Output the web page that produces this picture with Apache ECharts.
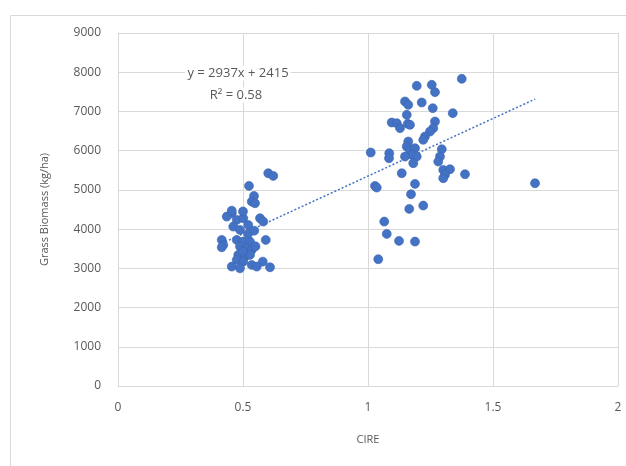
<!DOCTYPE html>
<html>
<head>
<meta charset="utf-8">
<script src="https://cdn.jsdelivr.net/npm/echarts@6/dist/echarts.min.js"></script>
<style>
  html, body { margin: 0; padding: 0; background: #ffffff; }
  #chart { width: 626px; height: 466px; }
</style>
</head>
<body>
<div id="chart"></div>
<script>
// CIRE index per plot
const cire = [
  0.601, 0.621, 0.524, 0.544, 0.535, 0.548, 0.455, 0.435, 0.475, 0.501,
  0.568, 0.581, 0.521, 0.461, 0.488, 0.591, 0.415, 0.421, 0.475, 0.501,
  0.528, 0.415, 0.488, 0.515, 0.535, 0.481, 0.508, 0.528, 0.475, 0.501,
  0.579, 0.608, 0.455, 0.488, 0.535, 0.555, 0.455, 0.500, 0.520, 0.545,
  0.500, 0.550,
  1.375, 1.195, 1.255, 1.268, 1.148, 1.161, 1.215, 1.259, 1.339, 1.155,
  1.159, 1.095, 1.115, 1.128, 1.168, 1.268, 1.261, 1.248, 1.228, 1.221,
  1.161, 1.155, 1.168, 1.188, 1.175, 1.148, 1.195, 1.181, 1.085, 1.084,
  1.011, 1.295, 1.288, 1.281, 1.301, 1.328, 1.308, 1.301, 1.388, 1.135,
  1.188, 1.028, 1.035, 1.172, 1.221, 1.165, 1.065, 1.075, 1.124, 1.188,
  1.041, 1.668
];

// Grass biomass (kg/ha) per plot
const biomass = [
  5425, 5357, 5102, 4847, 4702, 4660, 4405, 4319, 4235, 4277,
  4277, 4192, 4107, 4064, 3980, 3724, 3724, 3597, 3724, 3681,
  3681, 3537, 3554, 3512, 3469, 3342, 3299, 3342, 3214, 3171,
  3171, 3027, 3044, 3000, 3087, 3044, 4470, 4450, 3880, 3960,
  3430, 3560,
  7832, 7653, 7679, 7492, 7253, 7168, 7228, 7083, 6957, 6913,
  6684, 6718, 6701, 6573, 6658, 6743, 6573, 6488, 6360, 6276,
  6233, 6105, 6020, 6063, 5893, 5850, 5850, 5680, 5935, 5808,
  5952, 6037, 5850, 5722, 5510, 5527, 5383, 5298, 5400, 5425,
  5153, 5102, 5059, 4890, 4600, 4515, 4192, 3878, 3699, 3682,
  3232, 5170
];

// Linear trendline fitted to the data
const slope = 2937;
const intercept = 2415;
const rSquared = 0.58;

const xTicks = [0, 0.5, 1, 1.5, 2];
const yTicks = [0, 1000, 2000, 3000, 4000, 5000, 6000, 7000, 8000, 9000];

const points = cire.map((x, i) => [x, biomass[i]]);
const xMin = Math.min(...cire);
const xMax = Math.max(...cire);
const trend = [xMin, xMax].map(x => [x, slope * x + intercept]);

const fontFamily = '"Open Sans", Lato, "Liberation Sans", sans-serif';
const textColor = '#595959';
const gridColor = '#d9d9d9';

const chart = echarts.init(document.getElementById('chart'), null, { renderer: 'canvas' });
chart.setOption({
  animation: false,
  backgroundColor: '#ffffff',
  textStyle: { fontFamily: fontFamily },
  grid: { left: 118, right: 8, top: 33, bottom: 80 },
  xAxis: {
    type: 'value',
    min: xTicks[0],
    max: xTicks[xTicks.length - 1],
    interval: xTicks[1] - xTicks[0],
    name: 'CIRE',
    nameLocation: 'middle',
    nameGap: 48,
    nameTextStyle: { color: textColor, fontSize: 11, fontFamily: fontFamily },
    axisLine: { show: true, lineStyle: { color: gridColor } },
    axisTick: { show: false },
    axisLabel: { color: textColor, fontSize: 12, margin: 16, fontFamily: fontFamily,
                 formatter: v => String(v) },
    splitLine: { show: true, lineStyle: { color: gridColor, width: 1 } }
  },
  yAxis: {
    type: 'value',
    min: yTicks[0],
    max: yTicks[yTicks.length - 1],
    interval: yTicks[1] - yTicks[0],
    name: 'Grass Biomass (kg/ha)',
    nameLocation: 'middle',
    nameGap: 68,
    nameRotate: 90,
    nameTextStyle: { color: textColor, fontSize: 11, fontFamily: fontFamily },
    axisLine: { show: true, lineStyle: { color: gridColor } },
    axisTick: { show: false },
    axisLabel: { color: textColor, fontSize: 12, margin: 17, fontFamily: fontFamily,
                 formatter: v => String(v) },
    splitLine: { show: true, lineStyle: { color: gridColor, width: 1 } }
  },
  series: [
    {
      type: 'line',
      data: trend,
      symbol: 'none',
      z: 1,
      lineStyle: { color: '#4472c4', width: 1.5, type: [2, 2] }
    },
    {
      type: 'scatter',
      data: points,
      symbol: 'circle',
      symbolSize: 9,
      z: 2,
      itemStyle: { color: '#4472c4', borderColor: '#3b64b0', borderWidth: 0.6, opacity: 1 }
    }
  ],
  graphic: [
    {
      type: 'rect',
      silent: true,
      shape: { x: 10.5, y: 15.5, width: 640, height: 480 },
      style: { fill: 'none', stroke: '#d9d9d9', lineWidth: 1 }
    },
    {
      type: 'text',
      x: 238,
      y: 73,
      z: 10,
      style: {
        text: 'y = ' + slope + 'x + ' + intercept,
        fill: textColor,
        font: '13px ' + fontFamily,
        align: 'center',
        verticalAlign: 'middle',
        backgroundColor: '#ffffff',
        padding: [1, 2]
      }
    },
    {
      type: 'text',
      x: 236,
      y: 95,
      z: 10,
      style: {
        text: 'R\u00b2 = ' + rSquared,
        fill: textColor,
        font: '13px ' + fontFamily,
        align: 'center',
        verticalAlign: 'middle',
        backgroundColor: '#ffffff',
        padding: [1, 2]
      }
    }
  ]
});
</script>
</body>
</html>
